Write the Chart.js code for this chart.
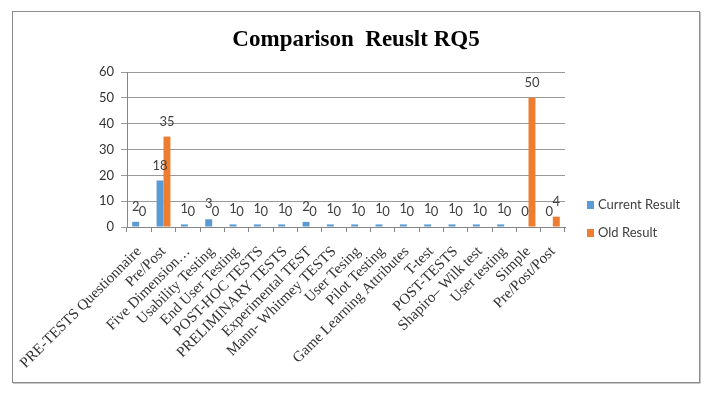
<!DOCTYPE html>
<html>
<head>
<meta charset="utf-8">
<title>Comparison Reuslt RQ5</title>
<script src="https://cdn.jsdelivr.net/npm/chart.js@4.4.1/dist/chart.umd.min.js"></script>
<style>
    html, body { margin: 0; padding: 0; background: #ffffff; }
    #wrap { width: 707px; height: 393px; }
</style>
</head>
<body>
<div id="wrap"><canvas id="rq5Chart" width="707" height="393"></canvas></div>
<script>
// Data
const categories = [
    'PRE-TESTS Questionnaire', 'Pre/Post', 'Five Dimension\u2026', 'Usability Testing',
    'End User Testing', 'POST-HOC TESTS', 'PRELIMINARY TESTS', 'Experimental TEST',
    'Mann- Whitmey TESTS', 'User Tesing', 'Pilot Testing', 'Game Learning Attributes',
    'T-test', 'POST-TESTS', 'Shapiro\u2013 Wilk test', 'User testing', 'Simple', 'Pre/Post/Post'
];
const currentResult = [2, 18, 1, 3, 1, 1, 1, 2, 1, 1, 1, 1, 1, 1, 1, 1, 0, 0];
const oldResult = [0, 35, 0, 0, 0, 0, 0, 0, 0, 0, 0, 0, 0, 0, 0, 0, 50, 4];
const yTicks = [0, 10, 20, 30, 40, 50, 60];
const seriesNames = ['Current Result', 'Old Result'];
const seriesColors = ['#5B9BD5', '#ED7D31'];

document.addEventListener('DOMContentLoaded', function () {
    const textColor = '#404040';
    const axisColor = '#868686';

    // frame round the whole chart
    const framePlugin = {
        id: 'frame',
        beforeDraw(chart) {
            const c = chart.ctx;
            c.save();
            c.fillStyle = '#ffffff';
            c.fillRect(0, 0, chart.width, chart.height);
            c.strokeStyle = '#c8c8c8';
            c.lineWidth = 1;
            c.beginPath();
            c.moveTo(700.5, 12);
            c.lineTo(700.5, 383.5);
            c.lineTo(13, 383.5);
            c.stroke();
            c.strokeStyle = '#8c8c8c';
            c.strokeRect(12.5, 11.5, 687, 371);
            c.restore();
        }
    };

    // title + legend on the right
    const titleLegendPlugin = {
        id: 'titleLegend',
        afterDraw(chart) {
            const c = chart.ctx;
            c.save();
            c.fillStyle = '#000000';
            c.font = 'bold 23px "Liberation Serif"';
            c.textAlign = 'center';
            c.textBaseline = 'middle';
            c.fillText('Comparison  Reuslt RQ5', 356, 40);

            c.font = '13px Lato';
            c.textAlign = 'left';
            const rows = [205, 233];
            chart.data.datasets.forEach((ds, i) => {
                c.fillStyle = ds.backgroundColor;
                c.fillRect(587, rows[i] - 4, 7, 8);
                c.fillStyle = textColor;
                c.fillText(ds.label, 598, rows[i]);
            });
            c.restore();
        }
    };

    // value labels above every bar
    const barValuePlugin = {
        id: 'barValues',
        afterDatasetsDraw(chart) {
            const c = chart.ctx;
            c.save();
            c.font = '13px Lato';
            c.fillStyle = textColor;
            c.textAlign = 'center';
            c.textBaseline = 'alphabetic';
            chart.data.datasets.forEach((ds, i) => {
                const meta = chart.getDatasetMeta(i);
                meta.data.forEach((bar, j) => {
                    c.fillText(String(ds.data[j]), bar.x, bar.y - 11);
                });
            });
            c.restore();
        }
    };

    const ctx = document.getElementById('rq5Chart').getContext('2d');
    new Chart(ctx, {
        type: 'bar',
        data: {
            labels: categories,
            datasets: [{
                label: seriesNames[0],
                data: currentResult,
                backgroundColor: seriesColors[0],
                categoryPercentage: 0.57,
                barPercentage: 1
            }, {
                label: seriesNames[1],
                data: oldResult,
                backgroundColor: seriesColors[1],
                categoryPercentage: 0.57,
                barPercentage: 1
            }]
        },
        options: {
            responsive: false,
            animation: false,
            devicePixelRatio: 1,
            layout: {
                padding: { top: 72, left: 0, right: 142, bottom: 0 }
            },
            plugins: {
                legend: { display: false },
                title: { display: false },
                tooltip: { enabled: false }
            },
            scales: {
                x: {
                    afterFit: function (scale) { scale.height = 393 - 227; },
                    grid: {
                        display: true,
                        drawOnChartArea: false,
                        drawTicks: true,
                        tickLength: 5,
                        color: axisColor,
                        offset: true
                    },
                    border: { color: axisColor },
                    ticks: {
                        autoSkip: false,
                        minRotation: 45,
                        maxRotation: 45,
                        padding: 11,
                        color: '#333333',
                        font: { family: '"Liberation Serif"', size: 15 }
                    }
                },
                y: {
                    min: 0,
                    max: 60,
                    afterFit: function (scale) { scale.width = 127; },
                    afterBuildTicks: function (scale) {
                        scale.ticks = yTicks.map(v => ({ value: v }));
                    },
                    grid: {
                        color: '#9a9a9a',
                        drawTicks: true,
                        tickLength: 6
                    },
                    border: { color: axisColor },
                    ticks: {
                        padding: 7,
                        color: '#333333',
                        font: { family: 'Lato', size: 13 }
                    }
                }
            }
        },
        plugins: [framePlugin, titleLegendPlugin, barValuePlugin]
    });
});
</script>
</body>
</html>
